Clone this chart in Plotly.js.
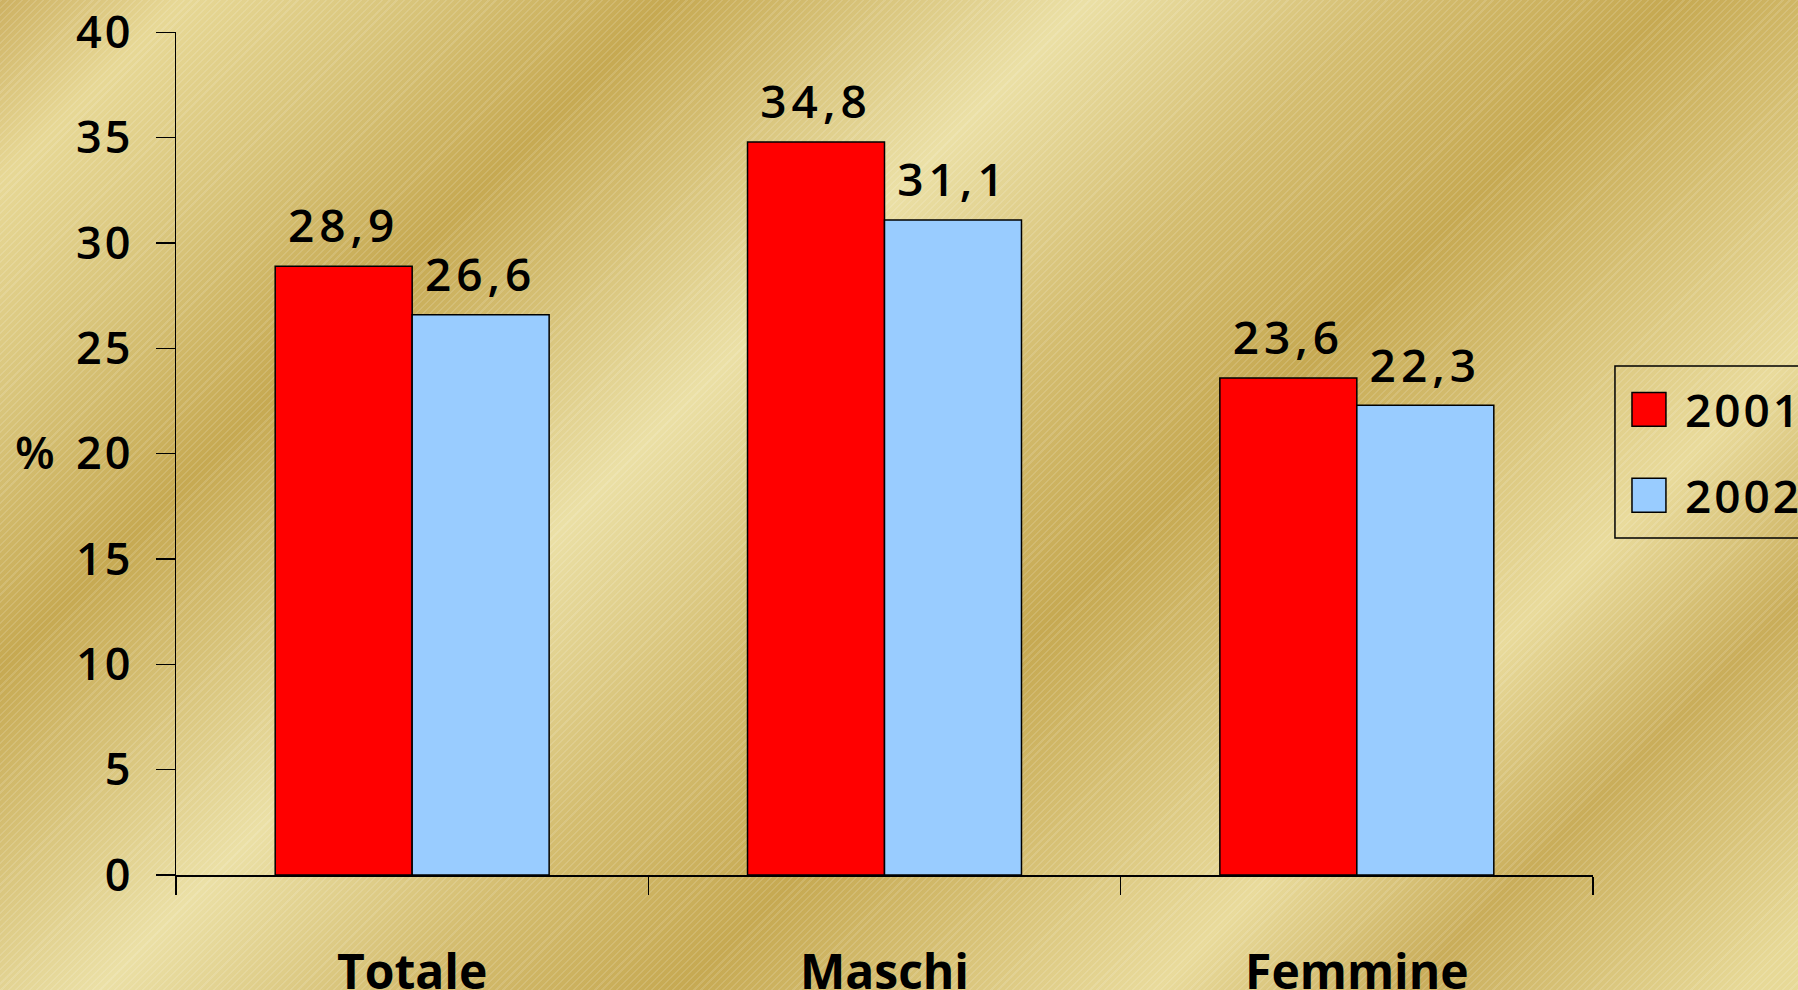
<!DOCTYPE html>
<html>
<head>
<meta charset="utf-8">
<script src="https://cdn.plot.ly/plotly-3.0.1.min.js"></script>
<style>
  html, body { margin: 0; padding: 0; }
  #chart {
    width: 1798px; height: 990px;
    background:
      repeating-linear-gradient(135deg, rgba(255,255,255,0.13) 0px, rgba(255,255,255,0.13) 1.5px, rgba(255,255,255,0) 1.5px, rgba(255,255,255,0) 5px),
      linear-gradient(135deg,
        #cdb162 0%, #e7d896 6.5%, #d8c47a 15%, #c6a952 24%, #ebe0a6 39%,
        #d4bd70 50%, #c6a952 60%, #e9db9c 77%, #c9ad5a 86%, #e7d997 98%);
  }
  .legend .legendpoints path {
    transform-box: fill-box;
    transform-origin: center;
    transform: translate(34px, 0px) scale(2.83);
    vector-effect: non-scaling-stroke;
  }
  .textpoint text { letter-spacing: 5px; }
  .ytick text { letter-spacing: 3px; }
  .legendtext { letter-spacing: 3px; }
</style>
</head>
<body>
<div id="chart"></div>
<script>
const categories = ['Totale', 'Maschi', 'Femmine'];
const seriesNames = ['2001', '2002'];
const values2001 = [28.9, 34.8, 23.6];
const values2002 = [26.6, 31.1, 22.3];
const yTickValues = [0, 5, 10, 15, 20, 25, 30, 35, 40];
const yAxisLabel = '%';

const fmt = v => v.toFixed(1).replace('.', ',');
const FONT = 'Open Sans, Noto Sans, Liberation Sans, sans-serif';

const series = [
  { name: seriesNames[0], values: values2001, color: '#ff0000', group: 'a' },
  { name: seriesNames[1], values: values2002, color: '#99ccff', group: 'b' }
];

const traces = [];
series.forEach(s => {
  traces.push({
    type: 'bar', name: s.name, x: categories, y: s.values,
    offsetgroup: s.group, legendgroup: s.group,
    marker: { color: s.color, line: { color: '#000', width: 1.5 } },
    hoverinfo: 'skip'
  });
});
series.forEach(s => {
  traces.push({
    type: 'scatter', mode: 'markers+text', x: categories, y: s.values,
    text: s.values.map(fmt), textposition: 'top center',
    textfont: { family: FONT, size: 46, color: '#000', weight: 600 },
    marker: { size: 18, color: 'rgba(0,0,0,0)' },
    offsetgroup: s.group, showlegend: false, hoverinfo: 'skip', cliponaxis: false
  });
});

const layout = {
  width: 1798, height: 990,
  margin: { l: 176, r: 205, t: 32, b: 115, autoexpand: false },
  paper_bgcolor: 'rgba(0,0,0,0)', plot_bgcolor: 'rgba(0,0,0,0)',
  barmode: 'group', bargap: 0.42, bargroupgap: 0,
  scattermode: 'group',
  font: { family: FONT, color: '#000' },
  xaxis: {
    type: 'category', showline: true, linecolor: '#000', linewidth: 1.5,
    ticks: 'outside', tickson: 'boundaries', ticklen: 18, tickwidth: 1.5, tickcolor: '#000',
    tickfont: { family: FONT, size: 48, color: '#000', weight: 700 },
    ticklabelstandoff: 55,
    showgrid: false, zeroline: false, fixedrange: true
  },
  yaxis: {
    range: [0, 40.02], tickvals: yTickValues, ticktext: yTickValues.map(String),
    showline: true, linecolor: '#000', linewidth: 1.5,
    ticks: 'outside', ticklen: 19, tickwidth: 1.5, tickcolor: '#000',
    tickfont: { family: FONT, size: 45, color: '#000', weight: 600 },
    ticklabelstandoff: 13,
    ticklabeloverflow: 'allow',
    showgrid: false, zeroline: false, fixedrange: true
  },
  legend: {
    x: 1.0155, y: 0.5955, xanchor: 'left', yanchor: 'top',
    bgcolor: 'rgba(0,0,0,0)', borderwidth: 0,
    font: { family: FONT, size: 46, color: '#000', weight: 600 },
    itemwidth: 60, traceorder: 'grouped', tracegroupgap: 23
  },
  shapes: [{
    type: 'rect', xref: 'paper', yref: 'paper',
    x0: 1.0155, x1: 1.25, y0: 0.3998, y1: 0.6038,
    line: { color: '#000', width: 1.5 }, fillcolor: 'rgba(0,0,0,0)', layer: 'above'
  }],
  annotations: [{
    text: yAxisLabel, xref: 'paper', yref: 'paper', x: -0.0995, y: 0.503,
    xanchor: 'center', yanchor: 'middle', showarrow: false,
    font: { family: FONT, size: 46, color: '#000', weight: 600 }
  }]
};

Plotly.newPlot('chart', traces, layout, { displayModeBar: false, staticPlot: true });
</script>
</body>
</html>
